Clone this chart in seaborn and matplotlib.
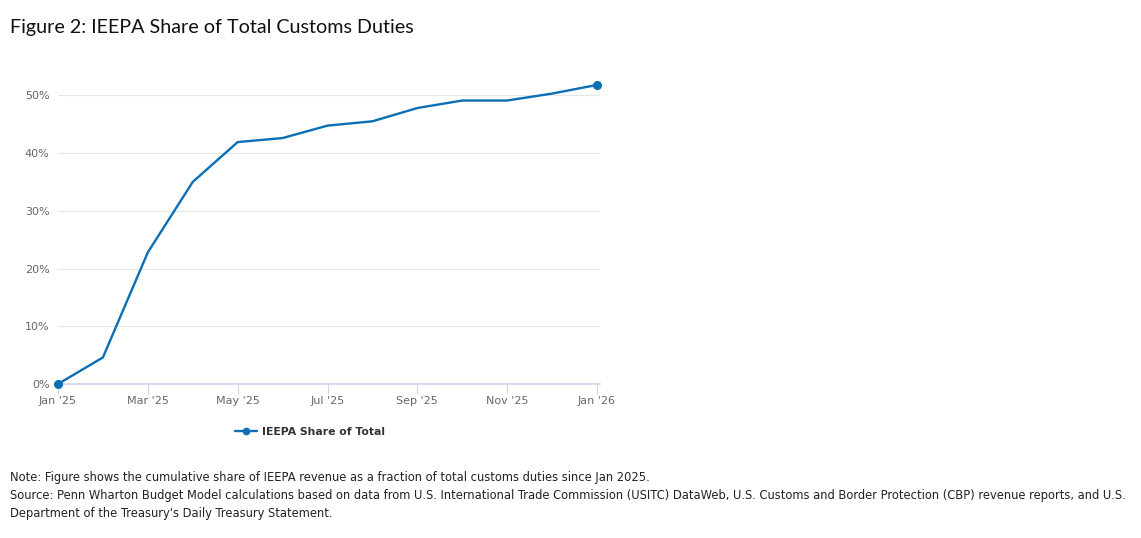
import matplotlib
matplotlib.use("Agg")
import matplotlib.pyplot as plt
import seaborn as sns
import pandas as pd

months = ["Jan '25", "Feb '25", "Mar '25", "Apr '25", "May '25", "Jun '25", "Jul '25",
          "Aug '25", "Sep '25", "Oct '25", "Nov '25", "Dec '25", "Jan '26"]
share = [0.0, 4.6, 22.8, 35.0, 41.9, 42.6, 44.75, 45.5, 47.8, 49.1, 49.1, 50.3, 51.8]
y_ticks = [0, 10, 20, 30, 40, 50]
series_name = "IEEPA Share of Total"

df = pd.DataFrame({"idx": range(len(months)), "share": share, "series": series_name})

sns.set_theme(style="white")
plt.rcParams['font.family'] = ['DejaVu Sans']

W, H = 1141, 538
fig = plt.figure(figsize=(W / 100, H / 100), dpi=100)
ax = fig.add_axes([58 / W, 1 - 384 / H, (600 - 58) / W, (384 - 78) / H])

color = "#0a6fb5"
sns.lineplot(data=df, x="idx", y="share", ax=ax, color=color, linewidth=1.7,
             legend=False)
ends = df.iloc[[0, -1]]
ax.plot(ends["idx"], ends["share"], "o", color=color, markersize=5.5, zorder=5,
        clip_on=False)

px_per_month = (597 - 58) / 12
ax.set_xlim(0, (600 - 58) / px_per_month)
ax.set_ylim(0, 53)
ax.set_yticks(y_ticks)
ax.set_yticklabels([f"{v}%" for v in y_ticks])
tick_idx = list(range(0, len(months), 2))
ax.set_xticks(tick_idx)
ax.set_xticklabels([months[i] for i in tick_idx])
ax.set_xlabel("")
ax.set_ylabel("")

ax.grid(axis="y", color="#e6e6e6", linewidth=0.8)
ax.set_axisbelow(True)
for s in ["top", "right", "left"]:
    ax.spines[s].set_visible(False)
ax.spines["bottom"].set_color("#ccd6eb")
ax.spines["bottom"].set_linewidth(1.2)
ax.tick_params(axis="x", colors="#666666", labelsize=8, length=7, width=0.8,
               color="#ccd6eb", pad=2, direction="out", bottom=True)
ax.tick_params(axis="y", colors="#666666", labelsize=8, length=0, pad=6)

fig.text(10 / W, 1 - 27 / H, "Figure 2: IEEPA Share of Total Customs Duties",
         fontsize=14.2, color="#111111", va="center", ha="left",
         family=["Lato", "DejaVu Sans"])

# legend
from matplotlib.lines import Line2D
handle = Line2D([0], [0], color=color, linewidth=1.7, marker="o", markersize=4.5)
leg = fig.legend([handle], [series_name], loc="center", bbox_to_anchor=(310 / W, 1 - 432 / H),
                 frameon=False, prop={"size": 7.8, "weight": "bold"},
                 handlelength=2.0, handletextpad=0.5)
for t in leg.get_texts():
    t.set_color("#333333")

notes = [
    "Note: Figure shows the cumulative share of IEEPA revenue as a fraction of total customs duties since Jan 2025.",
    "Source: Penn Wharton Budget Model calculations based on data from U.S. International Trade Commission (USITC) DataWeb, U.S. Customs and Border Protection (CBP) revenue reports, and U.S.",
    "Department of the Treasury's Daily Treasury Statement.",
]
for i, line in enumerate(notes):
    fig.text(10 / W, 1 - (478 + i * 18) / H, line, fontsize=8.3, color="#222222",
             va="center", ha="left")

fig.savefig("out.png", dpi=100)
